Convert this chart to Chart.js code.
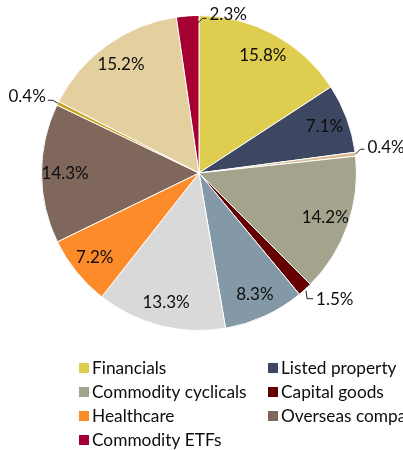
<!DOCTYPE html>
<html><head><meta charset="utf-8">
<script src="https://cdn.jsdelivr.net/npm/chart.js@4.4.0/dist/chart.umd.min.js"></script>
<style>html,body{margin:0;padding:0;background:#fff;overflow:hidden}canvas{display:block}</style>
</head><body>
<canvas id="c" width="403" height="450"></canvas>
<script>
// Categories in slice order (clockwise from top). Unnamed slices have no legend entry.
const categories = ["Financials","Listed property","","Commodity cyclicals","Capital goods","","","Healthcare","Overseas companies","","","Commodity ETFs"];
const shares = [15.8, 7.1, 0.4, 14.2, 1.5, 8.3, 13.3, 7.2, 14.3, 0.4, 15.2, 2.3];
const sliceColors = ["#DFCD4F","#3D4761","#D9B98C","#A3A48B","#650000","#8499A8","#D9D9D9","#FD8B2A","#7F685B","#C9A520","#E4D09E","#A60032"];

// style for labels placed outside the pie (index -> leader geometry)
const outsideStyle = {
  2:  {useEnd:false, rf:1.0,  ex:5,  ey:-5, hx:4,  tx:3,  ty:-2, align:"left"},
  4:  {useEnd:false, rf:1.01, ex:1,  ey:8,  hx:6,  tx:3,  ty:1,  align:"left"},
  9:  {useEnd:false, rf:1.0,  ex:-5, ey:-3, hx:-5, tx:-2, ty:-4, align:"right"},
  11: {useEnd:true,  rf:0.95, ex:5,  ey:-5, hx:4,  tx:3,  ty:-4, align:"left"}
};
const FONT = "Lato, 'Open Sans', sans-serif";

const labelPlugin = {
  id: "pctLabels",
  afterDatasetsDraw(chart) {
    const ctx = chart.ctx;
    const meta = chart.getDatasetMeta(0);
    ctx.save();
    ctx.font = "17px " + FONT;
    ctx.fillStyle = "#0d0d0d";
    ctx.strokeStyle = "#222";
    ctx.lineWidth = 1;
    meta.data.forEach((arc, i) => {
      const p = arc.getProps(["x","y","startAngle","endAngle","outerRadius"], true);
      const mid = (p.startAngle + p.endAngle) / 2;
      const txt = shares[i].toFixed(1) + "%";
      const st = outsideStyle[i];
      if (!st) {
        const r = p.outerRadius * 0.85;
        ctx.textAlign = "center";
        ctx.textBaseline = "middle";
        ctx.fillText(txt, p.x + Math.cos(mid) * r, p.y + Math.sin(mid) * r);
      } else {
        const a = st.useEnd ? p.endAngle - 0.01 : mid;
        const r = p.outerRadius * st.rf;
        const sx = p.x + Math.cos(a) * r, sy = p.y + Math.sin(a) * r;
        const ex = sx + st.ex, ey = sy + st.ey;
        const hx = ex + st.hx;
        ctx.beginPath();
        ctx.moveTo(sx, sy); ctx.lineTo(ex, ey); ctx.lineTo(hx, ey);
        ctx.stroke();
        ctx.textAlign = st.align;
        ctx.textBaseline = "middle";
        ctx.fillText(txt, hx + st.tx, ey + st.ty);
      }
    });
    ctx.restore();
  }
};

const legendPlugin = {
  id: "colLegend",
  afterDraw(chart) {
    const ctx = chart.ctx;
    const items = [];
    categories.forEach((c, i) => { if (c) items.push({text: c, color: sliceColors[i]}); });
    const colX = [79, 268];
    const top = chart.chartArea.bottom + 37;
    const rowH = 24;
    ctx.save();
    ctx.font = "17.3px " + FONT;
    ctx.textBaseline = "middle";
    ctx.textAlign = "left";
    items.forEach((it, k) => {
      const col = k % 2, row = Math.floor(k / 2);
      const x = colX[col], y = top + row * rowH;
      ctx.fillStyle = it.color;
      ctx.fillRect(x, y - 5, 10, 10);
      ctx.fillStyle = "#0d0d0d";
      ctx.fillText(it.text, x + 13, y);
    });
    ctx.restore();
  }
};

new Chart(document.getElementById("c"), {
  type: "pie",
  data: {
    labels: categories,
    datasets: [{
      data: shares,
      backgroundColor: sliceColors,
      borderColor: "#ffffff",
      borderWidth: 1
    }]
  },
  options: {
    responsive: false,
    animation: false,
    layout: { padding: { left: 41, right: 46, top: 15, bottom: 119 } },
    plugins: { legend: { display: false }, tooltip: { enabled: false } }
  },
  plugins: [labelPlugin, legendPlugin]
});
</script>
</body></html>
